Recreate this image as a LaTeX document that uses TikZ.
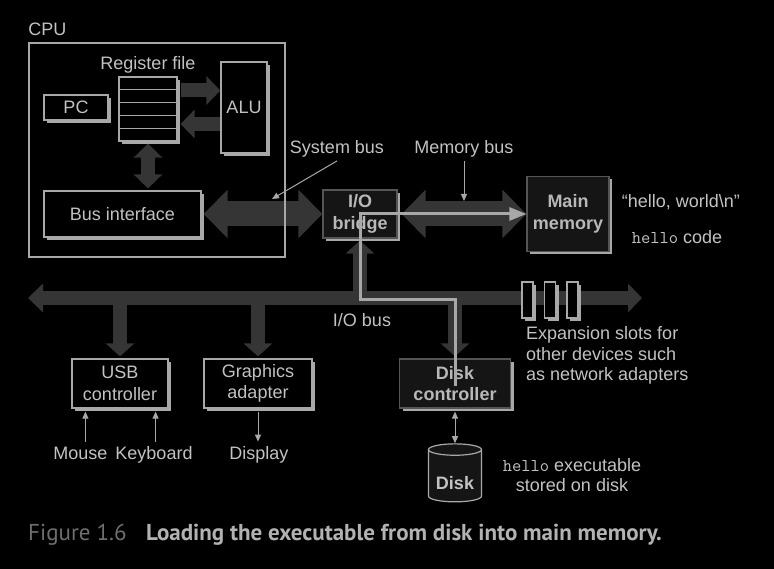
\documentclass[tikz,border=0pt]{standalone}
\usepackage{fontspec}
\setmainfont{Liberation Sans}
\newfontfamily\capfont{PT Sans}
\usetikzlibrary{arrows.meta,positioning,shapes.geometric,shadows,calc}
\definecolor{fg}{HTML}{C2C2C2}
\definecolor{ln}{HTML}{A8A8A8}
\definecolor{busgray}{HTML}{353535}
\definecolor{boxdark}{HTML}{151515}
\definecolor{framedark}{HTML}{555555}
\definecolor{capgray}{HTML}{6E6E6E}
\definecolor{capfg}{HTML}{B2B2B2}
\tikzset{
  every node/.style={text=fg, font=\fontsize{18}{21.5}\selectfont},
  unit/.style={draw=ln, line width=1.2pt, fill=black, align=center, inner sep=0pt,
    drop shadow={shadow xshift=3pt, shadow yshift=-3pt, fill=ln, opacity=1}},
  hwunit/.style={unit, draw=framedark, fill=boxdark, text=fg!95!black, font=\fontsize{18}{21.5}\selectfont\bfseries},
  bigbus/.style={busgray, line width=25pt, {Triangle[length=24pt,width=47pt]}-{Triangle[length=24pt,width=47pt]}},
  bus/.style={busgray, line width=14pt},
  pointer/.style={ln, line width=1pt},
  datapath/.style={ln, line width=3pt, -{Triangle[length=17pt,width=13pt]}}
}
\begin{document}
\begin{tikzpicture}[x=1pt, y=-1pt, >={Triangle[length=7pt,width=6pt]}]
\path[fill=black, use as bounding box] (0,0) rectangle (774,569);

\node[unit, minimum width=64pt, minimum height=25pt] (pc) at (76,107.5) {PC};
\node[unit, minimum width=58pt, minimum height=64pt] (regs) at (148,109) {};
\foreach \i in {1,...,4}
  \draw[ln, line width=1pt] ($(regs.north west)!\i/5!(regs.south west)$) -- ($(regs.north east)!\i/5!(regs.south east)$);
\node[above=0pt of regs] (rflabel) {Register file};
\node[unit, minimum width=46pt, minimum height=91pt] (alu) at (244,107.5) {ALU};
\node[unit, minimum width=157pt, minimum height=46pt] (bif) at (122.5,214) {Bus interface};

\draw[bus, -{Triangle[length=14pt,width=28pt]}] ([xshift=3pt,yshift=18.5pt]regs.east) -- ([yshift=17pt]alu.west);
\draw[bus, -{Triangle[length=14pt,width=28pt]}] ([yshift=-16.5pt]alu.west) -- ([xshift=3pt,yshift=-15pt]regs.east);
\draw[bus, {Triangle[length=14pt,width=28pt]}-{Triangle[length=14pt,width=28pt]}] ([yshift=-2pt]regs.south) -- ([yshift=2pt]regs.south |- bif.north);

\node[hwunit, minimum width=74pt, minimum height=48pt] (bridge) at (360,214) {I/O\\bridge};
\node[hwunit, minimum width=82pt, minimum height=75pt] (mem) at (568,214) {Main\\memory};
\node[unit, minimum width=96pt, minimum height=49pt] (usb) at (120,383.5) {USB\\controller};
\node[unit, minimum width=108pt, minimum height=49pt] (gfx) at (258,383.5) {Graphics\\adapter};
\node[hwunit, minimum width=111pt, minimum height=49pt] (diskc) at (455,383.5) {Disk\\controller};
\node[cylinder, shape border rotate=90, aspect=0.3, draw=ln, line width=1.2pt, fill=boxdark,
  minimum width=53pt, minimum height=58pt, inner sep=0pt, font=\fontsize{18}{21.5}\selectfont\bfseries] (disk) at (455,476) {\phantom{Disk}};
\node[font=\fontsize{18}{21.5}\selectfont\bfseries] (disklabel) at ([yshift=-7pt]disk.center) {Disk};

\draw[bigbus] ([xshift=2pt]bif.east) -- (bridge.west);
\draw[bigbus] ([xshift=4pt]bridge.east) -- (mem.west);
\node[draw=ln, line width=1.5pt, minimum width=256pt, minimum height=214pt, inner sep=0pt] (cpu) at (157,150) {};
\node[anchor=base west, inner sep=0pt] (cpulabel) at ([yshift=7pt]cpu.north west) {CPU};

\coordinate (iol) at (28,298);
\coordinate (ior) at (642,298);
\draw[bus, {Triangle[length=15pt,width=28pt]}-{Triangle[length=14pt,width=28pt]}] (iol) -- (ior);
\foreach \n in {usb,gfx,diskc}
  \draw[bus, -{Triangle[length=13pt,width=28pt]}] (\n.north |- iol) -- ([yshift=2pt]\n.north);
\draw[bus, -{Triangle[length=13pt,width=28pt]}] (bridge.south |- iol) -- ([yshift=-2pt]bridge.south);
\foreach \i/\x in {1/527.5,2/550,3/572.5}
  \node[unit, minimum width=11pt, minimum height=36pt] (slot\i) at (\x,300) {};

\draw[datapath] ([yshift=-2.5pt]diskc.center) -- ([yshift=-2pt]diskc.center |- iol) -| (bridge.center) -- (mem.west);

\node (sysbus) at (337,149) {System bus};
\coordinate (sysptr) at (272,199);
\draw[pointer, ->] (sysbus.south) -- (sysptr);
\node (membus) at (464,149) {Memory bus};
\coordinate (memptr) at (464,201);
\draw[pointer, ->] (membus.south) -- (memptr);
\node (iobus) at (362,320) {I/O bus};

\node (str) at (681,202) {“hello, world\textbackslash n”};
\node (code) at (677,237) {\texttt{hello} code};
\node[align=left, anchor=west, inner sep=0pt, font=\fontsize{18}{20.5}\selectfont] (exptext) at (526,355.5) {Expansion slots for\\other devices such\\as network adapters};

\node[anchor=base] (mouse) at (80.5,459.5) {Mouse};
\node[anchor=base] (kbd) at (154,459.5) {Keyboard};
\node[anchor=base] (disp) at (259,459.5) {Display};
\draw[pointer, ->] ($(usb.south west)+(14,33)$) -- ($(usb.south west)+(14,3)$);
\draw[pointer, ->] ($(usb.south east)+(-13,33)$) -- ($(usb.south east)+(-13,3)$);
\draw[pointer, ->] ($(gfx.south)+(0,3)$) -- ($(gfx.south)+(0,33)$);
\draw[pointer, <->] ($(diskc.south)+(0,3)$) -- (disk.top);
\node[align=center, font=\fontsize{18}{20}\selectfont] (disktext) at (572,475) {\texttt{hello} executable\\stored on disk};

\node[anchor=west, inner sep=0pt, text=capgray, font=\capfont\fontsize{23}{27}\selectfont] (fig) at (28,535) {Figure 1.6};
\node[right=19pt of fig, inner sep=0pt, text=capfg, font=\capfont\fontsize{23}{27}\selectfont\bfseries] (caption) {Loading the executable from disk into main memory.};
\end{tikzpicture}
\end{document}
